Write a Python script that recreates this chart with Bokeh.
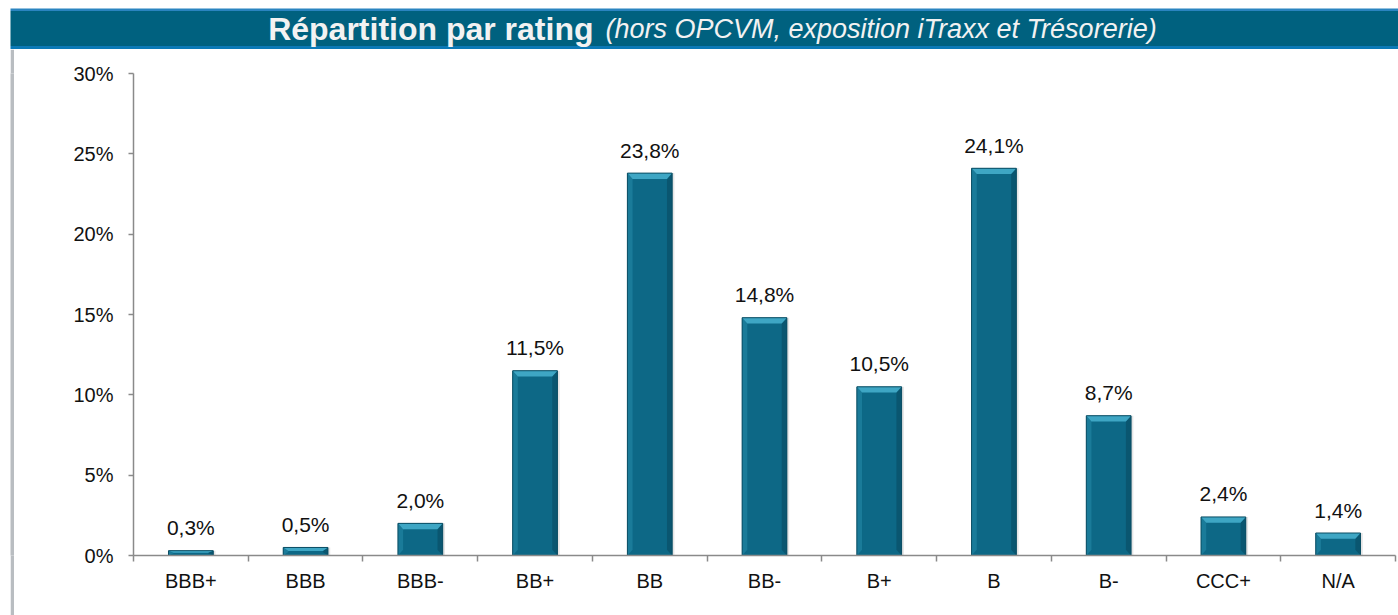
from bokeh.plotting import figure
from bokeh.models import Range1d, FixedTicker, ColumnDataSource, Spacer
from bokeh.layouts import column, row
from bokeh.embed import file_html
from bokeh.resources import INLINE
from bokeh.core.properties import value

# ---- data ----
categories = ["BBB+", "BBB", "BBB-", "BB+", "BB", "BB-", "B+", "B", "B-", "CCC+", "N/A"]
values = [0.3, 0.5, 2.0, 11.5, 23.8, 14.8, 10.5, 24.1, 8.7, 2.4, 1.4]
y_ticks = [0, 5, 10, 15, 20, 25, 30]
y_tick_labels = ["0%", "5%", "10%", "15%", "20%", "25%", "30%"]
title_main = "Répartition par rating"
title_sub = "(hors OPCVM, exposition iTraxx et Trésorerie)"

value_labels = [("%.1f" % v).replace(".", ",") + "%" for v in values]
xs = [i + 0.5 for i in range(len(categories))]

FONT = value("Liberation Sans")
AXIS_COLOR = "#8a8a8a"
STRIP_COLOR = "#b9bdc1"

# ---- banner ----
W = 1398
BH = 49
banner = figure(width=W, height=BH, x_range=Range1d(0, W), y_range=Range1d(0, BH), title=None,
                output_backend="svg", toolbar_location=None, min_border=0,
                x_axis_type=None, y_axis_type=None)
banner.grid.visible = False
banner.outline_line_color = None
banner.background_fill_color = "white"
banner.border_fill_color = "white"
banner.quad(left=[10], right=[W], bottom=[0], top=[3.5], fill_color="#0b79b6", line_color=None)
banner.quad(left=[10], right=[W], bottom=[3.5], top=[38.5], fill_color="#00617f", line_color=None)
banner.quad(left=[10], right=[W], bottom=[38.5], top=[41], fill_color="#2a84c0", line_color=None)
banner.text(x=[593], y=[21], text=[title_main], text_align="right", text_baseline="middle",
            text_font=FONT, text_font_style="bold", text_font_size="32px", text_color="#f2f2f2")
banner.text(x=[605], y=[21], text=[title_sub], text_align="left", text_baseline="middle",
            text_font=FONT, text_font_style="italic", text_font_size="27px", text_color="#f2f2f2")

# ---- left grey strip ----
SH = 566
gap = Spacer(width=10, height=SH)
strip = figure(width=4, height=SH, x_range=Range1d(0, 1), y_range=Range1d(0, 1), title=None,
               output_backend="svg", toolbar_location=None, min_border=0,
               x_axis_type=None, y_axis_type=None)
strip.grid.visible = False
strip.outline_line_color = None
strip.background_fill_color = STRIP_COLOR
strip.border_fill_color = STRIP_COLOR

# ---- main chart ----
p = figure(width=1384, height=SH, x_range=Range1d(0, len(categories)), y_range=Range1d(0, 30),
           title=None, output_backend="svg", toolbar_location=None,
           min_border_left=119, min_border_right=3, min_border_top=24, min_border_bottom=60)
p.grid.visible = False
p.outline_line_color = None

# bars with bevel
bw = 0.39
dx = 0.045
bev = 0.36
src = ColumnDataSource(dict(x=xs, top=values, label=value_labels))

top_xs, top_ys, left_xs, left_ys, right_xs, right_ys = [], [], [], [], [], []
for x, v in zip(xs, values):
    b = min(bev, v * 0.45)
    l, r = x - bw / 2, x + bw / 2
    top_xs.append([l, r, r - dx, l + dx])
    top_ys.append([v, v, v - b, v - b])
    left_xs.append([l, l + dx, l + dx, l])
    left_ys.append([v, v - b, min(b, v - b), 0])
    right_xs.append([r, r - dx, r - dx, r])
    right_ys.append([v, v - b, min(b, v - b), 0])

# soft shadow
p.vbar(x=[x + 0.02 for x in xs], top=values, width=bw, bottom=0,
       fill_color="#000000", fill_alpha=0.10, line_color=None)
p.vbar(x="x", top="top", width=bw, source=src, fill_color="#0d6886", line_color=None)
p.patches(xs=left_xs, ys=left_ys, fill_color="#1a7b99", line_color=None)
p.patches(xs=right_xs, ys=right_ys, fill_color="#0a5670", line_color=None)
p.patches(xs=top_xs, ys=top_ys, fill_color="#3ea6c4", line_color=None)
p.vbar(x="x", top="top", width=bw, source=src, fill_color=None, line_color="#0a4d63", line_width=1)

p.text(x="x", y="top", text="label", source=src, text_align="center", text_baseline="alphabetic",
       y_offset=-23, text_font=FONT, text_font_size="21px", text_color="#111111")

# x axis
xa = p.xaxis[0]
xa.ticker = FixedTicker(ticks=xs, minor_ticks=list(range(len(categories) + 1)))
xa.major_label_overrides = {x: c for x, c in zip(xs, categories)}
xa.major_tick_line_color = None
xa.major_tick_out = 0
xa.major_tick_in = 0
xa.minor_tick_in = 0
xa.minor_tick_out = 6
xa.minor_tick_line_color = AXIS_COLOR
xa.minor_tick_line_width = 1.5
xa.axis_line_color = AXIS_COLOR
xa.axis_line_width = 1.5
xa.major_label_standoff = 8
xa.major_label_text_font = "Liberation Sans"
xa.major_label_text_font_size = "20px"
xa.major_label_text_color = "#111111"

# y axis
ya = p.yaxis[0]
ya.ticker = FixedTicker(ticks=y_ticks, minor_ticks=[])
ya.major_label_overrides = {t: s for t, s in zip(y_ticks, y_tick_labels)}
ya.major_tick_in = 0
ya.major_tick_out = 5
ya.major_tick_line_color = AXIS_COLOR
ya.major_tick_line_width = 1.5
ya.minor_tick_line_color = None
ya.axis_line_color = AXIS_COLOR
ya.axis_line_width = 1.5
ya.major_label_standoff = 15
ya.major_label_text_font = "Liberation Sans"
ya.major_label_text_font_size = "20px"
ya.major_label_text_color = "#111111"

layout = column(banner, row(gap, strip, p))
open("out.html", "w").write(file_html(layout, INLINE))
